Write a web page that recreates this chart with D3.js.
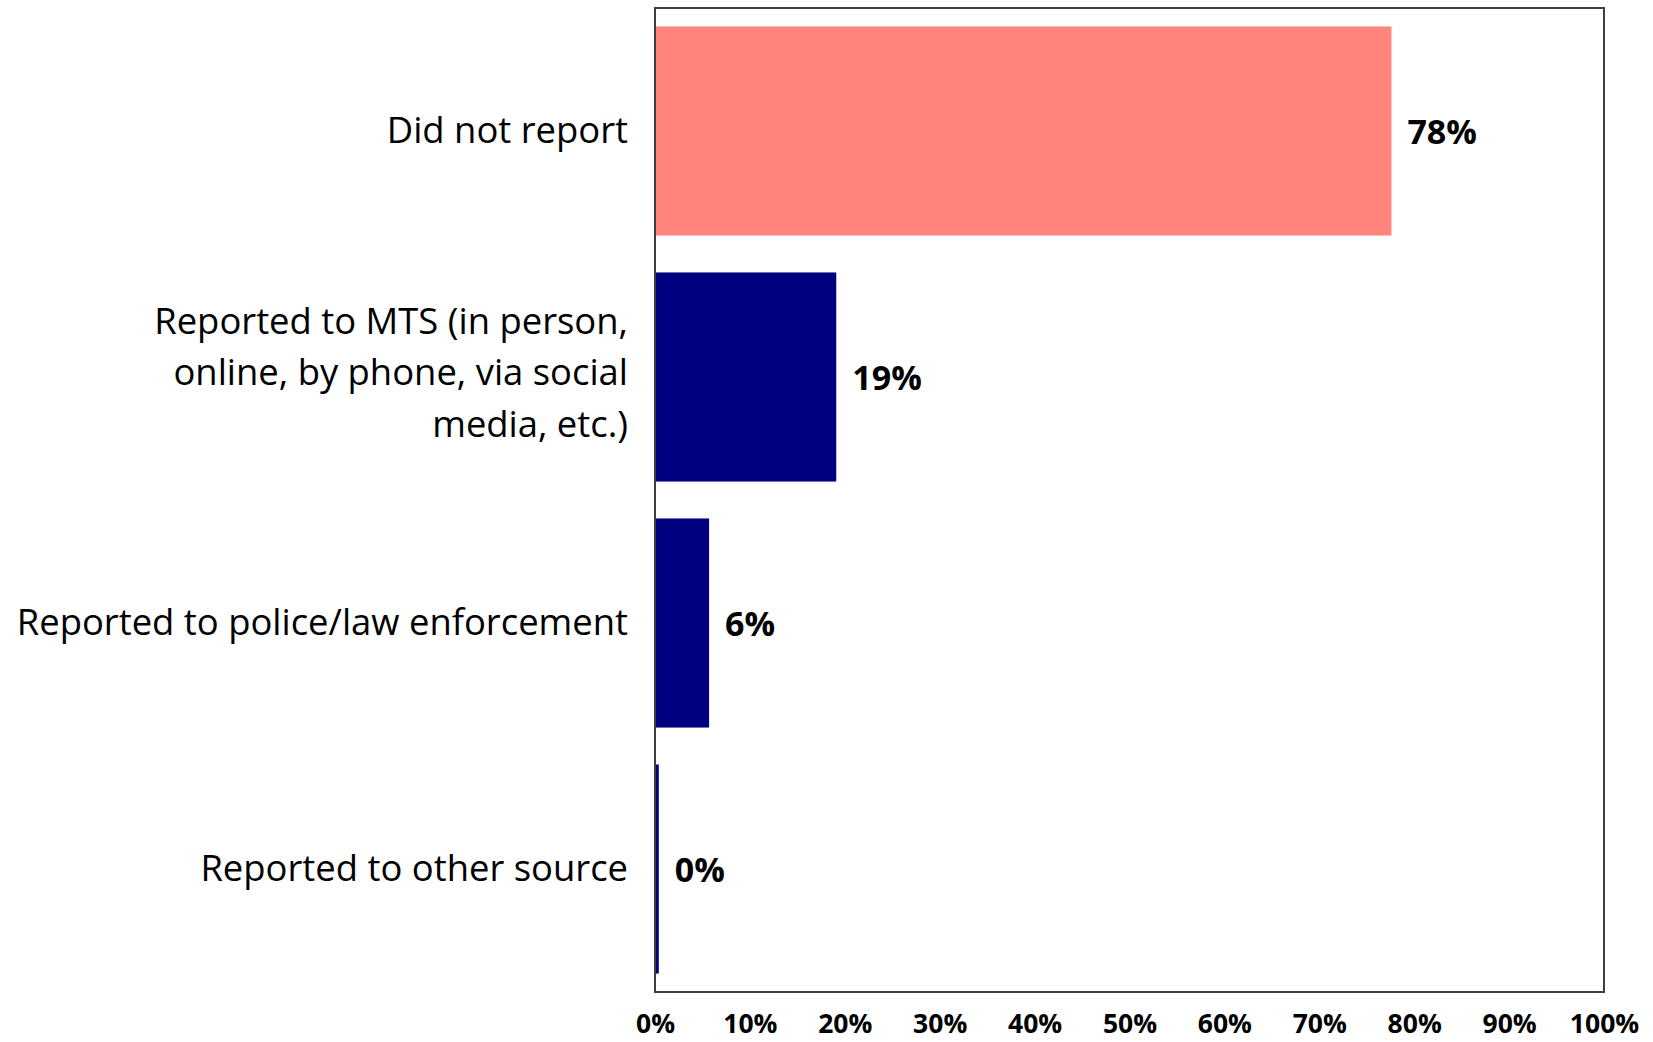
<!DOCTYPE html>
<html>
<head>
<meta charset="utf-8">
<script src="https://cdn.jsdelivr.net/npm/d3@7"></script>
<style>
  html, body { margin: 0; padding: 0; background: #fff; }
  svg { display: block; }
</style>
</head>
<body>
<svg id="chart" width="1653" height="1042"></svg>
<script>
const categories = [
  "Did not report",
  "Reported to MTS (in person,\nonline, by phone, via social\nmedia, etc.)",
  "Reported to police/law enforcement",
  "Reported to other source"
];
const values = [77.6, 19.1, 5.7, 0.4];
const valueLabels = ["78%", "19%", "6%", "0%"];
const barColors = ["#FF847C", "#000080", "#000080", "#000080"];
const tickValues = [0, 10, 20, 30, 40, 50, 60, 70, 80, 90, 100];
const tickLabels = ["0%", "10%", "20%", "30%", "40%", "50%", "60%", "70%", "80%", "90%", "100%"];

const W = 1653, H = 1042;
const margin = { top: 8, right: 49, bottom: 50, left: 655 };
const iw = W - margin.left - margin.right;
const ih = H - margin.top - margin.bottom;

const svg = d3.select("#chart");
const g = svg.append("g").attr("transform", `translate(${margin.left},${margin.top})`);

const x = d3.scaleLinear().domain([0, 100]).range([0, iw]);
const y = d3.scaleBand().domain(categories).range([0, ih]).paddingInner(0.15).paddingOuter(0.075);

// bars
g.selectAll("rect.bar")
  .data(categories)
  .join("rect")
  .attr("class", "bar")
  .attr("x", 0)
  .attr("y", d => y(d))
  .attr("width", (d, i) => x(values[i]))
  .attr("height", y.bandwidth())
  .attr("fill", (d, i) => barColors[i]);

// value labels
g.selectAll("text.val")
  .data(categories)
  .join("text")
  .attr("class", "val")
  .attr("x", (d, i) => x(values[i]) + 16)
  .attr("y", d => y(d) + y.bandwidth() / 2)
  .attr("dominant-baseline", "central")
  .attr("font-family", "'Open Sans', sans-serif")
  .attr("font-weight", "bold")
  .attr("font-size", 34)
  .attr("fill", "#000")
  .text((d, i) => valueLabels[i]);

// frame
g.append("rect")
  .attr("x", 0).attr("y", 0)
  .attr("width", iw).attr("height", ih)
  .attr("fill", "none")
  .attr("stroke", "#3f3f3f")
  .attr("stroke-width", 2);

// x axis
const xAxis = d3.axisBottom(x)
  .tickValues(tickValues)
  .tickFormat((d, i) => tickLabels[i])
  .tickSize(0)
  .tickPadding(22);
const ax = g.append("g").attr("transform", `translate(0,${ih})`).call(xAxis);
ax.select(".domain").remove();
ax.selectAll("text")
  .attr("font-family", "'Open Sans', sans-serif")
  .attr("font-weight", "bold")
  .attr("font-size", 26.5)
  .attr("fill", "#000");

// category labels
const lineH = 51.5;
const cat = g.selectAll("text.cat")
  .data(categories)
  .join("text")
  .attr("class", "cat")
  .attr("text-anchor", "end")
  .attr("font-family", "'Open Sans', sans-serif")
  .attr("font-size", 36.4)
  .attr("fill", "#000");
cat.each(function(d) {
  const lines = d.split("\n");
  const cy = y(d) + y.bandwidth() / 2 - (lines.length > 1 ? 6 : 2);
  const t = d3.select(this);
  lines.forEach((ln, k) => {
    t.append("tspan")
      .attr("x", -27)
      .attr("y", cy + (k - (lines.length - 1) / 2) * lineH)
      .attr("dominant-baseline", "central")
      .text(ln);
  });
});
</script>
</body>
</html>
